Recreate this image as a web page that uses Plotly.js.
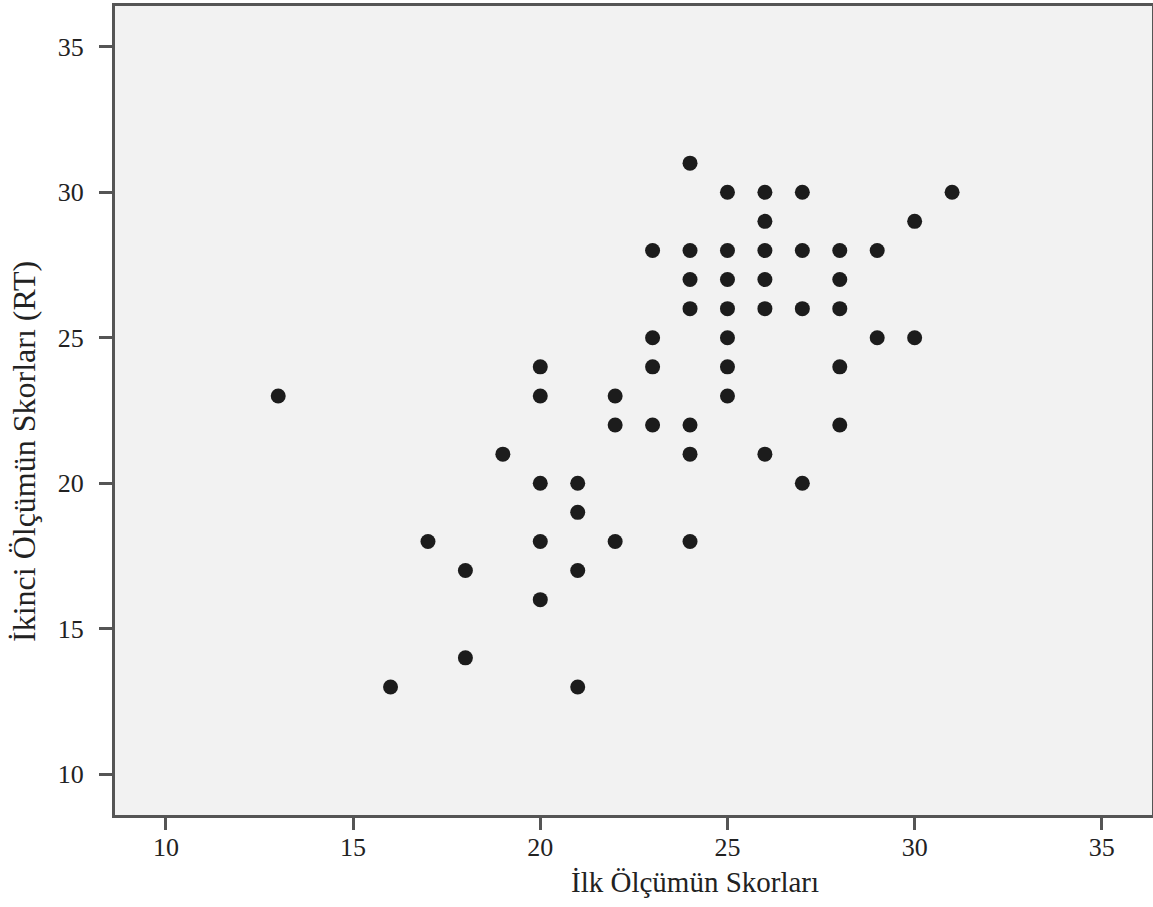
<!DOCTYPE html>
<html>
<head>
<meta charset="utf-8">
<script src="https://cdn.plot.ly/plotly-3.0.1.min.js"></script>
<style>html,body{margin:0;padding:0;background:#fff;}#chart{width:1153px;height:907px;}</style>
</head>
<body>
<div id="chart"></div>
<script>
// First measurement scores (x) and second measurement scores (y)
const ilkOlcum = [13,16,17,18,18,19,20,20,20,20,20,21,21,21,21,22,22,22,23,23,23,23,24,24,24,24,24,24,24,25,25,25,25,25,25,25,26,26,26,26,26,26,27,27,27,27,28,28,28,28,28,29,29,30,30,31];
const ikinciOlcum = [23,13,18,17,14,21,24,23,20,18,16,20,19,17,13,23,22,18,28,25,24,22,31,28,27,26,22,21,18,30,28,27,26,25,24,23,30,29,28,27,26,21,30,28,26,20,28,27,26,24,22,28,25,29,25,30];
const tickVals = [10,15,20,25,30,35];
const tickText = ["10","15","20","25","30","35"];
const xTitle = "İlk Ölçümün Skorları";
const yTitle = "İkinci Ölçümün Skorları (RT)";

const font = "Liberation Serif, Times New Roman, serif";

Plotly.newPlot("chart", [{
  type: "scatter",
  mode: "markers",
  x: ilkOlcum,
  y: ikinciOlcum,
  marker: {size: 15, color: "#1c1c1c", line: {width: 0}},
  hoverinfo: "x+y"
}], {
  width: 1153, height: 907,
  margin: {l: 115, r: 1, t: 6, b: 92},
  paper_bgcolor: "#ffffff",
  plot_bgcolor: "#f2f2f2",
  showlegend: false,
  font: {family: font, color: "#222", size: 26},
  xaxis: {
    range: [8.64, 36.34],
    tickvals: tickVals, ticktext: tickText,
    ticks: "outside", ticklen: 12, tickwidth: 3, tickcolor: "#555",
    showgrid: false, zeroline: false,
    showline: true, linecolor: "#555", linewidth: 3, mirror: true,
    tickfont: {family: font, size: 26, color: "#222"},
    ticklabelstandoff: -5
  },
  yaxis: {
    range: [8.60, 36.40],
    tickvals: tickVals, ticktext: tickText,
    ticks: "outside", ticklen: 13, tickwidth: 3, tickcolor: "#555",
    showgrid: false, zeroline: false,
    showline: true, linecolor: "#555", linewidth: 3, mirror: true,
    tickfont: {family: font, size: 26, color: "#222"},
    ticklabelstandoff: 10
  },
  annotations: [
    {text: xTitle, xref: "paper", yref: "paper", x: (695-115)/1037, y: -(882-815)/809,
     xanchor: "center", yanchor: "middle", showarrow: false,
     font: {family: font, size: 29, color: "#222"}},
    {text: yTitle, xref: "paper", yref: "paper", x: -(115-24)/1037, y: (815-452)/809,
     xanchor: "center", yanchor: "middle", showarrow: false, textangle: -90,
     font: {family: font, size: 32, color: "#222"}}
  ]
}, {displayModeBar: false});
</script>
</body>
</html>
